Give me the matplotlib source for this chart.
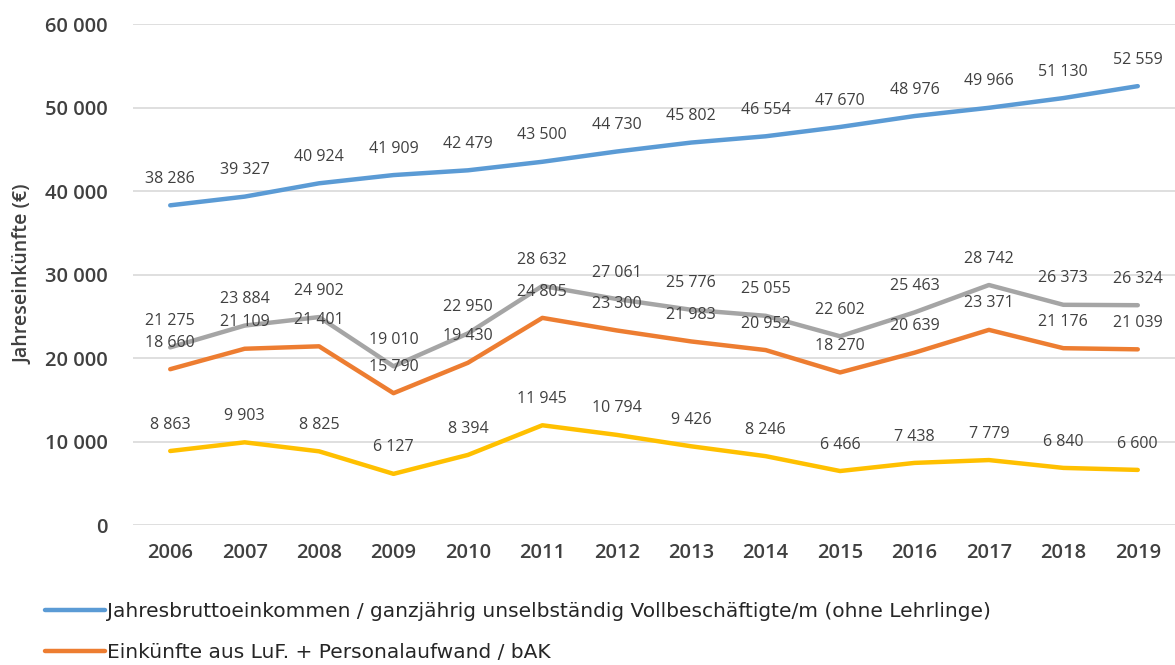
import matplotlib
matplotlib.use("Agg")
import matplotlib.pyplot as plt
from matplotlib.ticker import FixedLocator, FuncFormatter

years = ["2006", "2007", "2008", "2009", "2010", "2011", "2012",
         "2013", "2014", "2015", "2016", "2017", "2018", "2019"]

brutto = [38286, 39327, 40924, 41909, 42479, 43500, 44730,
          45802, 46554, 47670, 48976, 49966, 51130, 52559]
luf_personal = [18660, 21109, 21401, 15790, 19430, 24805, 23300,
                21983, 20952, 18270, 20639, 23371, 21176, 21039]
grau_reihe = [21275, 23884, 24902, 19010, 22950, 28632, 27061,
              25776, 25055, 22602, 25463, 28742, 26373, 26324]
gelb_reihe = [8863, 9903, 8825, 6127, 8394, 11945, 10794,
              9426, 8246, 6466, 7438, 7779, 6840, 6600]

legend_labels = [
    "Jahresbruttoeinkommen / ganzjährig unselbständig Vollbeschäftigte/m (ohne Lehrlinge)",
    "Einkünfte aus LuF. + Personalaufwand / bAK",
]

y_ticks = [0, 10000, 20000, 30000, 40000, 50000, 60000]

TXT = "#404040"
plt.rcParams["font.family"] = ["Open Sans", "DejaVu Sans"]


def fmt(v, _pos=None):
    return f"{int(v):,}".replace(",", " ")


fig = plt.figure(figsize=(11.75, 6.65), dpi=100)
ax = fig.add_axes([0.1132, 0.2105, 0.8868, 0.7534])

x = range(len(years))
series = [
    (brutto, "#5B9BD5"),
    (luf_personal, "#ED7D31"),
    (grau_reihe, "#A5A5A5"),
    (gelb_reihe, "#FFC000"),
]
handles = []
for vals, col in series:
    (ln,) = ax.plot(x, vals, color=col, lw=3.2, solid_capstyle="round", zorder=3)
    handles.append(ln)
    for xi, v in zip(x, vals):
        ax.annotate(fmt(v), (xi, v), xytext=(0, 19), textcoords="offset points",
                    ha="center", va="center", fontsize=11.5, color=TXT, zorder=4)

ax.set_xlim(-0.5, len(years) - 0.5)
ax.set_ylim(0, 60000)
ax.yaxis.set_major_locator(FixedLocator(y_ticks))
ax.yaxis.set_major_formatter(FuncFormatter(fmt))
ax.set_xticks(list(x))
ax.set_xticklabels(years)
ax.grid(axis="y", color="#D9D9D9", lw=1.2, zorder=0)
for s in ax.spines.values():
    s.set_visible(False)
ax.tick_params(axis="both", length=0, labelsize=14.5, labelcolor=TXT)
ax.tick_params(axis="x", pad=13)
ax.tick_params(axis="y", pad=18)
for lab in ax.get_xticklabels() + ax.get_yticklabels():
    lab.set_fontweight("semibold")

fig.text(0.02, 0.588, "Jahreseinkünfte (€)", rotation=90, ha="center", va="center",
         fontsize=14, fontweight="semibold", color=TXT)

fig.legend(handles[:2], legend_labels, loc="center left", bbox_to_anchor=(0.038, 0.049),
           frameon=False, handlelength=3.0, handletextpad=0.1,
           labelspacing=1.1, borderpad=0, borderaxespad=0, labelcolor="#262626",
           prop={"family": "DejaVu Sans", "size": 14.5})

fig.savefig("out.png", dpi=100)
